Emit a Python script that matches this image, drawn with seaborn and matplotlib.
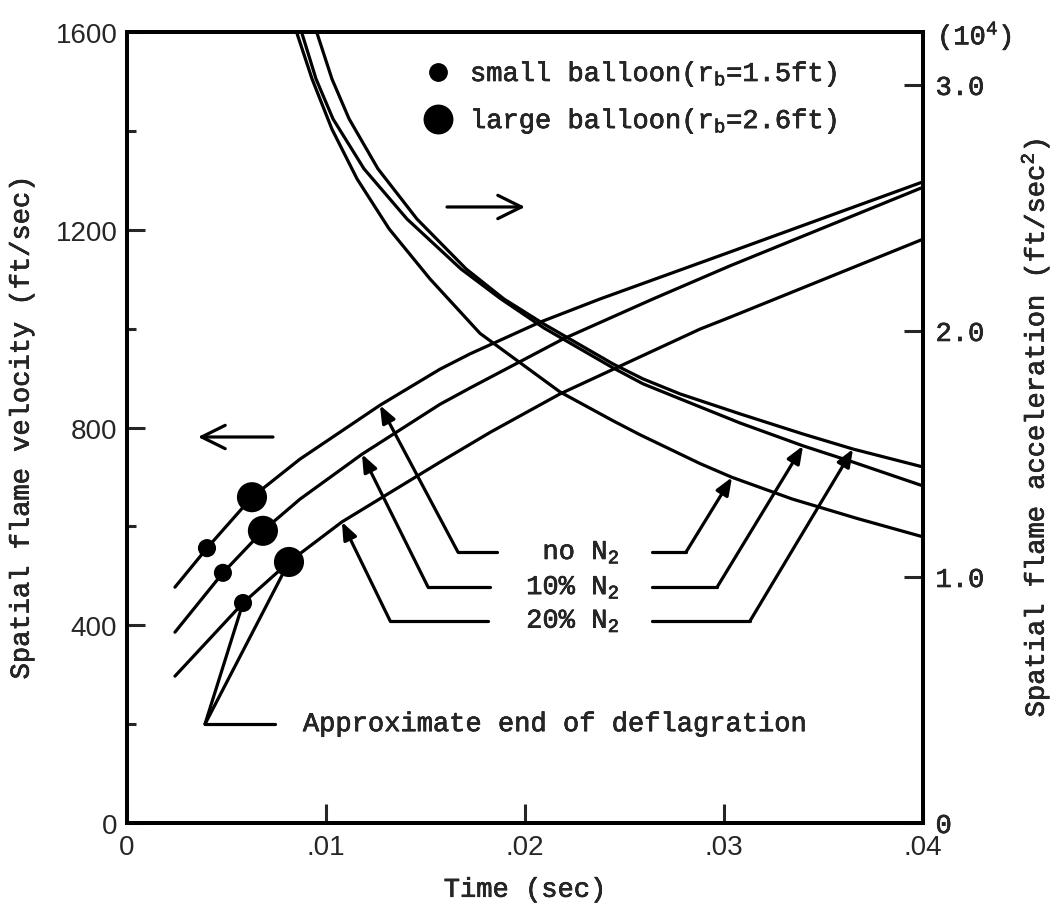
import numpy as np
import pandas as pd
import matplotlib
matplotlib.use("Agg")
import matplotlib.pyplot as plt
from matplotlib.lines import Line2D
import matplotlib.patheffects as pe
import seaborn as sns

# ---------------- data ----------------
mixtures = ["no N$_2$", "10% N$_2$", "20% N$_2$"]

# spatial flame velocity (ft/sec) vs time (sec)
t_vel_no = [0.00241, 0.00402, 0.00628, 0.00869, 0.01271, 0.01573, 0.01724, 0.02075, 0.02377, 0.0303, 0.04]
vel_no = [477, 556, 659, 736, 845, 918, 949, 1013, 1060, 1155, 1297]
t_vel_10 = [0.00241, 0.00482, 0.00683, 0.00869, 0.01181, 0.01573, 0.01724, 0.02191, 0.02643, 0.0303, 0.04]
vel_10 = [386, 506, 591, 655, 746, 847, 880, 979, 1060, 1127, 1286]
t_vel_20 = [0.00241, 0.00583, 0.00814, 0.0108, 0.01573, 0.01824, 0.02176, 0.02879, 0.0303, 0.04]
vel_20 = [297, 445, 528, 609, 730, 790, 868, 999, 1023, 1181]

# spatial flame acceleration (10^4 ft/sec^2) vs time (sec)
t_acc_no = [0.00854, 0.0093, 0.0103, 0.01156, 0.01317, 0.01523, 0.01774, 0.02176,
            0.02442, 0.02578, 0.02879, 0.0304, 0.03342, 0.03668, 0.04]
acc_no = [3.21, 3.024, 2.82, 2.618, 2.415, 2.211, 1.99, 1.752,
          1.635, 1.578, 1.461, 1.405, 1.317, 1.238, 1.163]
t_acc_10 = [0.00879, 0.0095, 0.01035, 0.01191, 0.01407, 0.01678, 0.01879, 0.02095,
            0.02442, 0.02593, 0.02779, 0.0308, 0.03397, 0.03648, 0.04]
acc_10 = [3.21, 3.024, 2.862, 2.659, 2.455, 2.252, 2.13, 2.012,
          1.85, 1.785, 1.724, 1.626, 1.533, 1.467, 1.37]
t_acc_20 = [0.00955, 0.0103, 0.01116, 0.01261, 0.01457, 0.01704, 0.01894, 0.02095,
            0.02442, 0.02593, 0.02779, 0.0308, 0.03397, 0.03648, 0.04]
acc_20 = [3.21, 3.024, 2.862, 2.659, 2.455, 2.252, 2.13, 2.028,
          1.866, 1.805, 1.744, 1.663, 1.581, 1.52, 1.447]

# approximate end of deflagration (points on the velocity curves)
small_t = [0.00402, 0.00482, 0.00583]
small_v = [556, 506, 445]
large_t = [0.00628, 0.00683, 0.00814]
large_v = [659, 591, 528]

# axes
x_ticks = [0, 0.01, 0.02, 0.03, 0.04]
x_ticklabels = ["0", ".01", ".02", ".03", ".04"]
v_ticks = [0, 400, 800, 1200, 1600]
v_ticklabels = ["0", "400", "800", "1200", "1600"]
v_minor = [200, 600, 1000, 1400]
a_ticks = [0, 1, 2, 3]
a_ticklabels = ["0", "1.0", "2.0", "3.0"]
V_MAX = 1600
A_MAX = 3.215

# annotation layout (leader lines to the curves)
vel_tip_t = [0.01271, 0.01181, 0.0108]
acc_tip_t = [0.0304, 0.03397, 0.03648]
label_v = [548, 477, 409]
left_end_t = [0.01859, 0.01824, 0.01814]
left_corner_t = [0.01663, 0.01513, 0.01322]
text_right_t = 0.02477
right_start_t = 0.02638
right_corner_t = [0.02809, 0.02965, 0.03131]

# ---------------- styling ----------------
sns.set_theme(style="ticks")
MONO = ["Liberation Mono", "DejaVu Sans Mono"]
SANS = ["Liberation Sans", "DejaVu Sans"]
plt.rcParams["font.family"] = MONO
plt.rcParams["mathtext.default"] = "regular"
plt.rcParams["axes.linewidth"] = 2.8
FS = 19.5
LW = 2.3
K = "black"
THICK = [pe.withStroke(linewidth=0.45, foreground=K)]

fig = plt.figure(figsize=(10.6, 9.12), dpi=100)
ax = fig.add_axes([0.1198, 0.0965, 0.751, 0.8673])
ax2 = ax.twinx()

vel_df = pd.concat([
    pd.DataFrame({"t": t_vel_no, "v": vel_no, "mix": mixtures[0]}),
    pd.DataFrame({"t": t_vel_10, "v": vel_10, "mix": mixtures[1]}),
    pd.DataFrame({"t": t_vel_20, "v": vel_20, "mix": mixtures[2]}),
])
acc_df = pd.concat([
    pd.DataFrame({"t": t_acc_no, "a": acc_no, "mix": mixtures[0]}),
    pd.DataFrame({"t": t_acc_10, "a": acc_10, "mix": mixtures[1]}),
    pd.DataFrame({"t": t_acc_20, "a": acc_20, "mix": mixtures[2]}),
])
pal = {m: K for m in mixtures}

sns.lineplot(data=vel_df, x="t", y="v", hue="mix", palette=pal, sort=False,
             estimator=None, legend=False, lw=LW, ax=ax)
sns.lineplot(data=acc_df, x="t", y="a", hue="mix", palette=pal, sort=False,
             estimator=None, legend=False, lw=LW, ax=ax2)

dots = pd.concat([
    pd.DataFrame({"t": small_t, "v": small_v, "balloon": "small"}),
    pd.DataFrame({"t": large_t, "v": large_v, "balloon": "large"}),
])
sns.scatterplot(data=dots, x="t", y="v", size="balloon",
                sizes={"small": 170, "large": 470}, color=K, linewidth=0,
                legend=False, ax=ax, zorder=5)

# axes limits / ticks
ax.set_xlim(0, 0.04)
ax.set_ylim(0, V_MAX)
ax2.set_ylim(0, A_MAX)
ax.set_xticks(x_ticks)
ax.set_xticklabels(x_ticklabels, fontsize=20, family=SANS)
ax.set_yticks(v_ticks)
ax.set_yticklabels(v_ticklabels, fontsize=20, family=SANS)
ax.set_yticks(v_minor, minor=True)
ax.tick_params(axis="x", which="major", direction="in", length=14, width=2.2, pad=8, top=False)
ax.tick_params(axis="y", which="major", direction="in", length=13, width=2.2, pad=7)
ax.tick_params(axis="y", which="minor", direction="in", length=6.5, width=2.2)
ax2.set_yticks(a_ticks)
ax2.set_yticklabels(a_ticklabels, fontsize=FS, family=MONO)
ax2.tick_params(axis="y", direction="in", length=14, width=2.2, pad=9)
for lab in ax2.get_yticklabels():
    lab.set_path_effects(THICK)
for a in (ax, ax2):
    for s in a.spines.values():
        s.set_linewidth(2.8)
        s.set_color(K)
        s.set_visible(True)

ax.set_xlabel("Time (sec)", fontsize=FS, path_effects=THICK)
ax.xaxis.set_label_coords(0.5, -0.068)
ax.set_ylabel("Spatial flame velocity (ft/sec)", fontsize=FS, path_effects=THICK)
ax.yaxis.set_label_coords(-0.116, 0.5)
ax2.set_ylabel("Spatial flame acceleration (ft/sec$^2$)", fontsize=FS, path_effects=THICK)
ax2.yaxis.set_label_coords(1.12, 0.5)
ax.text(1.0176, 0.995, "(10$^4$)", transform=ax.transAxes, fontsize=FS,
        ha="left", va="center", path_effects=THICK)

# legend
handles = [Line2D([], [], ls="none", marker="o", color=K, markersize=12.5),
           Line2D([], [], ls="none", marker="o", color=K, markersize=20.5)]
labels = ["small balloon(r$_b$=1.5ft)", "large balloon(r$_b$=2.6ft)"]
leg = ax.legend(handles, labels, loc="upper left", bbox_to_anchor=(0.3737, 0.9657),
                frameon=False, handlelength=1.0, handletextpad=0.68, labelspacing=0.63,
                borderaxespad=0, borderpad=0, prop={"family": MONO, "size": FS})
for txt in leg.get_texts():
    txt.set_path_effects(THICK)

# direction arrows
dir_kw = dict(arrowstyle="->,head_length=0.85,head_width=0.42", lw=LW, color=K,
              mutation_scale=20, shrinkA=0, shrinkB=0)
ax.annotate("", xy=(0.5, 0.7788), xytext=(0.402, 0.7788), xycoords="axes fraction",
            textcoords="axes fraction", arrowprops=dir_kw)
ax.annotate("", xy=(0.0892, 0.488), xytext=(0.1834, 0.488), xycoords="axes fraction",
            textcoords="axes fraction", arrowprops=dir_kw)

# leader lines for mixtures
arrow_kw = dict(arrowstyle="-|>,head_length=0.7,head_width=0.28", lw=LW, color=K,
                mutation_scale=15, shrinkA=0, shrinkB=0)
vel_sets = [(t_vel_no, vel_no), (t_vel_10, vel_10), (t_vel_20, vel_20)]
acc_sets = [(t_acc_no, acc_no), (t_acc_10, acc_10), (t_acc_20, acc_20)]
scale = V_MAX / A_MAX
for i in range(3):
    y = label_v[i]
    tv = np.interp(vel_tip_t[i], *vel_sets[i])
    ta = np.interp(acc_tip_t[i], *acc_sets[i]) * scale
    ax.plot([left_end_t[i], left_corner_t[i]], [y, y], color=K, lw=LW)
    ax.annotate("", xy=(vel_tip_t[i], tv), xytext=(left_corner_t[i], y), arrowprops=arrow_kw)
    ax.plot([right_start_t, right_corner_t[i]], [y, y], color=K, lw=LW)
    ax.annotate("", xy=(acc_tip_t[i], ta), xytext=(right_corner_t[i], y), arrowprops=arrow_kw)
    ax.text(text_right_t, y - 14, mixtures[i], ha="right", va="baseline", fontsize=FS,
            path_effects=THICK)

# end of deflagration leader
corner = (0.00392, 200)
ax.plot([corner[0], 0.00744], [corner[1], corner[1]], color=K, lw=LW)
ax.plot([corner[0], small_t[2]], [corner[1], small_v[2]], color=K, lw=LW)
ax.plot([corner[0], large_t[2]], [corner[1], large_v[2]], color=K, lw=LW)
ax.text(0.00884, 200, "Approximate end of deflagration", fontsize=FS, va="center",
        path_effects=THICK)

fig.savefig("out.png", dpi=100)
